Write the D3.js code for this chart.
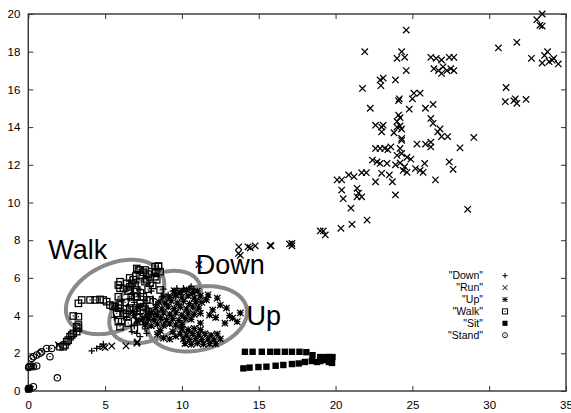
<!DOCTYPE html>
<html><head><meta charset="utf-8">
<script src="https://cdn.jsdelivr.net/npm/d3@7"></script>
<style>body{margin:0;background:#fff}svg{display:block}</style>
</head><body><svg id="c" width="571" height="413"></svg>
<script>
const xTicks = [0,5,10,15,20,25,30,35];
const yTicks = [0,2,4,6,8,10,12,14,16,18,20];
const seriesNames = ['"Down"','"Run"','"Up"','"Walk"','"Sit"','"Stand"'];

const downPts = [[4.13,2.13],[4.45,2.26],[4.67,2.35],[4.88,2.49],[7.28,2.88],[7.06,3.06],[7.7,3.06],[6.74,3.15],[7.6,3.3],[7.6,3.6],[7.55,3.9],[7.65,4.2],[7.6,4.5],[7.6,4.8],[7.3,4.1],[7.9,4.2],[6.5,4.5],[6.9,4.7],[8.3,4.6],[8.7,5.0],[9.1,5.1],[9.4,5.3],[9.67,5.45],[10.1,5.45],[10.5,5.45],[10.75,5.36],[10.3,5.3],[10.6,5.55],[10.0,5.27],[8.0,5.3],[8.8,5.4],[6.2,4.2],[5.8,4.4],[6.4,3.9],[8.9,3.5],[8.5,3.2],[9.3,4.0],[8.2,3.8],[6.8,5.2],[7.2,5.4],[6.1,4.8],[5.6,3.9],[9.8,4.6],
[6.9,3.5],[7.1,4.4],[7.8,4.4],[8.1,4.9],[6.6,4.9],[7.4,3.8],[8.4,4.2],[8.7,3.8],[9.0,4.6],[9.6,5.0]];

const runPts = [[33.45,20.0],[33.1,19.7],[33.3,19.4],[33.45,19.36],[24.6,19.15],[31.8,18.5],[30.6,18.2],[21.9,18.0],[24.3,18.0],[24.0,17.65],[24.5,17.7],[33.8,18.0],[33.6,17.8],[32.75,17.65],[34.2,17.65],[33.9,17.47],[33.45,17.4],[34.5,17.35],[34.1,17.55],[26.2,17.7],[26.55,17.65],[26.9,17.56],[27.4,17.7],[27.7,17.7],[26.4,17.1],[26.7,17.0],[27.0,17.2],[27.25,17.0],[27.7,17.0],[26.9,16.85],[27.5,17.1],[24.6,17.0],[22.9,16.5],[23.1,16.6],[22.95,16.2],[23.9,16.5],[21.75,16.05],[31.1,16.1],[24.1,15.4],[24.15,15.5],[25.1,15.8],[25.5,15.8],[25.0,15.5],[31.05,15.35],[31.7,15.5],[31.8,15.26],[32.4,15.47],[31.6,15.4],[22.26,15.0],[24.8,14.95],[25.85,15.0],[26.35,15.2],[24.1,14.64],[24.2,14.5],[24.0,14.3],[24.2,14.06],[24.0,14.0],[24.3,13.9],[22.6,14.1],[23.0,14.0],[23.1,14.1],[23.0,13.75],[23.8,13.7],[26.2,14.46],[26.35,14.2],[26.8,13.9],[26.65,13.75],[27.3,13.5],[26.9,13.5],[29.0,13.45],[24.3,13.4],[24.3,13.3],[25.3,13.1],[25.85,13.1],[26.2,13.2],[26.2,12.95],[28.1,12.9],[22.6,12.87],[22.9,12.87],[23.2,12.87],[23.6,12.95],[23.4,12.8],[24.2,12.87],[24.3,12.6],[24.0,12.5],[24.65,12.4],[24.9,12.3],[24.2,12.1],[24.5,11.9],[24.4,11.7],[24.65,11.6],[22.4,12.25],[22.7,12.15],[22.9,12.07],[23.35,12.07],[23.9,12.0],[25.2,11.8],[25.5,11.7],[25.7,11.6],[25.8,12.07],[27.4,12.15],[27.65,11.76],[20.1,11.2],[20.4,11.2],[20.85,11.46],[21.2,11.37],[21.7,11.58],[22.0,11.58],[23.0,11.55],[23.5,11.46],[22.6,11.1],[23.7,11.1],[26.5,11.2],[20.4,10.66],[20.5,10.2],[21.0,9.7],[21.4,10.75],[21.5,10.5],[21.7,10.3],[21.4,10.3],[23.9,10.4],[28.6,9.64],[22.05,9.07],[21.07,8.84],[20.35,8.63],[19.0,8.49],[19.2,8.49],[19.33,8.28],[17.16,7.83],[17.16,7.7],[15.8,7.7],[15.75,7.72],[14.45,7.6],[14.77,7.7],[14.3,7.65],[13.7,7.65],[13.68,7.3],[17.0,7.8],[13.8,7.2],[11.1,6.7],[1.96,2.44],[4.89,2.35],[5.0,2.3],[5.43,2.39],[6.36,2.39],[7.06,2.53],[7.1,2.6]];

const upPts = [
[9.5,5.32],[9.9,5.25],[10.3,5.36],[10.7,5.22],[11.0,5.3],
[8.8,5.02],[9.2,4.95],[9.6,5.08],[10.0,4.98],[10.4,5.05],[10.8,4.93],[11.2,5.04],
[8.5,4.72],[8.9,4.66],[9.3,4.78],[9.7,4.68],[10.1,4.75],[10.5,4.64],[10.9,4.74],[11.3,4.7],
[8.3,4.42],[8.7,4.36],[9.1,4.46],[9.5,4.38],[9.9,4.44],[10.3,4.35],[10.7,4.45],[11.1,4.4],
[8.0,4.12],[8.4,4.05],[8.8,4.15],[9.2,4.08],[9.6,4.14],[10.0,4.04],[10.4,4.13],[10.8,4.07],[11.2,4.12],
[7.8,3.82],[8.2,3.76],[8.6,3.86],[9.0,3.78],[9.4,3.84],[9.8,3.75],[10.2,3.85],[10.6,3.8],
[7.6,3.52],[8.0,3.46],[8.4,3.55],[8.8,3.48],[9.2,3.56],[9.6,3.5],[10.0,3.54],
[6.8,4.2],[7.1,3.7],[7.3,4.5],[6.9,4.0],
[11.6,4.83],[12.3,4.93],[12.5,4.56],[11.8,4.03],[11.2,3.6],[12.8,3.6],[13.3,3.87],[13.8,4.14],[13.6,3.68],[12.0,4.3],[12.9,4.4],[13.1,4.0],[12.2,3.9],[11.7,5.1],
[10.0,3.3],[10.4,3.26],[10.8,3.32],[11.2,3.25],
[9.9,3.02],[10.3,2.97],[10.7,3.05],[11.1,2.98],[11.5,3.04],[11.9,2.96],[12.3,3.03],
[10.1,2.76],[10.5,2.72],[10.9,2.78],[11.3,2.73],[11.7,2.77],[12.1,2.71],[12.5,2.76],
[10.2,2.52],[10.6,2.47],[11.0,2.53],[11.4,2.48],[11.8,2.52],[12.2,2.5],
[8.4,3.0],[8.8,2.8],[9.2,2.75],[9.6,2.9],[8.6,3.2],[9.4,3.15]];

const walkPts = [[2.06,2.35],[2.28,2.35],[2.39,2.44],[2.5,2.62],[2.6,2.7],[2.72,2.88],[2.83,2.97],[2.93,3.06],[3.15,3.15],[3.15,3.41],[3.26,3.5],[3.26,3.33],[2.93,3.98],[3.26,3.94],[3.26,4.65],[3.48,4.83],[4.02,4.83],[4.35,4.83],[4.67,4.86],[4.88,4.83],[5.1,4.74],[5.32,4.56],[5.65,4.47],[5.86,5.62],[5.97,5.45],[6.41,5.71],[6.63,5.53],[7.06,6.5],[7.28,6.42],[7.6,6.42],[8.25,6.6],[8.47,6.6],[8.04,6.33],[8.36,5.9],[7.71,5.9],[6.84,5.9],[6.95,5.0],[7.49,5.0],[5.76,4.12],[5.86,3.68],[6.3,4.12],[8.04,3.94],[7.49,4.47],[7.93,4.83],[7.17,6.42],[7.49,6.3],[7.28,6.15],[8.47,6.63],[8.58,6.33],[8.25,6.06],[5.97,5.8],[6.74,5.71],[6.95,5.62],[6.19,5.45],[7.06,5.36],[7.6,5.8],[7.93,5.71],[8.58,5.36],[5.86,5.0],[5.97,4.56],[5.86,4.39],[6.19,4.12],[6.08,3.68],[5.97,3.41],[6.41,3.94],[7.06,5.0],[7.28,4.65],[7.71,4.83],[7.82,4.21],[7.93,3.94],[6.84,4.3],[7.49,4.12],[7.28,3.68],
[6.5,5.3],[6.7,5.0],[6.3,4.7],[6.6,4.4],[7.0,4.4],[7.3,5.2],[7.8,5.4],[8.1,5.6],[6.6,6.0],[7.0,6.1],[7.8,6.2],[8.3,6.3],[6.5,3.6],[6.9,3.3],[7.2,3.9],[5.5,4.5]];

const sitPts = [[14.1,2.08],[14.6,2.08],[15.2,2.08],[15.75,2.08],[16.2,2.08],[16.7,2.08],[17.16,2.08],[17.65,2.08],[18.1,2.06],[18.5,1.9],[19.0,1.8],[19.4,1.8],
[14.0,1.2],[14.4,1.24],[14.98,1.27],[15.5,1.29],[16.1,1.34],[16.6,1.38],[17.16,1.43],[17.6,1.46],[18.0,1.54],[18.45,1.59],[18.8,1.54],[19.0,1.59],[19.3,1.64],[19.56,1.54],[19.77,1.49],[19.56,1.8],[19.8,1.8],
[0.02,0.08],[0.08,0.12],[0.04,0.15]];

const standPts = [[0.0,0.1],[0.06,0.14],[0.33,0.23],[1.89,0.7],[0.11,1.29],[0.22,1.33],[0.33,1.29],[0.55,1.33],[0.22,1.73],[0.33,1.82],[0.55,1.91],[0.76,2.0],[0.87,2.08],[1.2,2.26],[1.52,2.26],[1.41,1.82],[0.06,1.3],[0.02,1.25]];

// ellipse: centre, semi-axis vectors (data units)
const ellipseNames = ["Walk","Down","Up"];
const ellipseCentres = [[5.65,4.99],[8.26,4.46],[10.99,3.83]];
const ellipseMajor = [[3.07,1.17],[2.82,1.33],[3.21,0.62]];
const ellipseMinor = [[0.91,-1.59],[0.98,-1.38],[0.50,-1.62]];
const labelPos = [[1.3,7.0],[10.9,6.2],[14.2,3.5]];

const svg = d3.select("#c");
const x = d3.scaleLinear().domain([0,35]).range([28.3,566]);
const y = d3.scaleLinear().domain([0,20]).range([391,14]);
const font = "'Liberation Sans', Arial, Helvetica, sans-serif";

// axes
const gB = svg.append("g").attr("transform","translate(0,391)")
  .call(d3.axisBottom(x).tickValues(xTicks).tickSize(-5).tickPadding(10).tickFormat(d3.format("d")));
const gT = svg.append("g").attr("transform","translate(0,14)")
  .call(d3.axisTop(x).tickValues(xTicks).tickSize(-5).tickFormat(""));
const gL = svg.append("g").attr("transform","translate(28.3,0)")
  .call(d3.axisLeft(y).tickValues(yTicks).tickSize(-5).tickPadding(8).tickFormat(d3.format("d")));
const gR = svg.append("g").attr("transform","translate(566,0)")
  .call(d3.axisRight(y).tickValues(yTicks).tickSize(-5).tickFormat(""));
[gB,gT,gL,gR].forEach(g=>{
  g.select(".domain").remove();
  g.selectAll("line").attr("stroke","#333").attr("stroke-width",1);
  g.selectAll("text").attr("font-family",font).attr("font-size","11.5px").attr("fill","#000");
});
svg.append("rect").attr("x",x(0)).attr("y",y(20)).attr("width",x(35)-x(0)).attr("height",y(0)-y(20))
  .attr("fill","none").attr("stroke","#333").attr("stroke-width",1.4);

// ellipses
const ts = d3.range(0,361,3).map(d=>d*Math.PI/180);
ellipseNames.forEach((n,i)=>{
  const c=ellipseCentres[i], u=ellipseMajor[i], v=ellipseMinor[i];
  const line = d3.line().x(t=>x(c[0]+u[0]*Math.cos(t)+v[0]*Math.sin(t))).y(t=>y(c[1]+u[1]*Math.cos(t)+v[1]*Math.sin(t)));
  svg.append("path").attr("d",line(ts)+"Z").attr("fill","none").attr("stroke","#888").attr("stroke-width",4);
});
// labels
ellipseNames.forEach((n,i)=>{
  svg.append("text").attr("x",x(labelPos[i][0])).attr("y",y(labelPos[i][1])).text(n)
    .attr("font-family",font).attr("font-size","27px").attr("fill","#000");
});

// symbols
const s=3.2, sw=1.25;
const sym = {
  Down:g=>g.append("path").attr("d",`M${-s},0H${s}M0,${-s}V${s}`).attr("stroke","#000").attr("stroke-width",sw).attr("fill","none"),
  Run:g=>g.append("path").attr("d",`M${-s},${-s}L${s},${s}M${-s},${s}L${s},${-s}`).attr("stroke","#000").attr("stroke-width",sw).attr("fill","none"),
  Up:g=>g.append("path").attr("d",`M${-s},0H${s}M0,${-s}V${s}M${-s},${-s}L${s},${s}M${-s},${s}L${s},${-s}`).attr("stroke","#000").attr("stroke-width",sw).attr("fill","none"),
  Walk:g=>{g.append("rect").attr("x",-s).attr("y",-s).attr("width",2*s).attr("height",2*s).attr("fill","none").attr("stroke","#000").attr("stroke-width",sw);
           g.append("rect").attr("x",-0.6).attr("y",-0.6).attr("width",1.2).attr("height",1.2).attr("fill","#000");},
  Sit:g=>g.append("rect").attr("x",-s).attr("y",-s).attr("width",2*s).attr("height",2*s).attr("fill","#000"),
  Stand:g=>{g.append("circle").attr("r",s).attr("fill","none").attr("stroke","#000").attr("stroke-width",1.1);
            g.append("rect").attr("x",-0.6).attr("y",-0.6).attr("width",1.2).attr("height",1.2).attr("fill","#000");}
};
const series = [["Down",downPts],["Run",runPts],["Up",upPts],["Walk",walkPts],["Sit",sitPts],["Stand",standPts]];
series.forEach(([n,pts])=>{
  svg.append("g").selectAll("g").data(pts).join("g")
    .attr("transform",d=>`translate(${x(d[0])},${y(d[1])})`)
    .each(function(){sym[n](d3.select(this));});
});

// legend
const leg = svg.append("g");
seriesNames.forEach((n,i)=>{
  const yy = 275.7 + i*11.9;
  leg.append("text").attr("x",483).attr("y",yy).attr("dy","0.35em").attr("text-anchor","end")
    .attr("font-family",font).attr("font-size","10.5px").text(n);
  const g = leg.append("g").attr("transform",`translate(505,${yy}) scale(0.8)`);
  sym[series[i][0]](g);
});
</script></body></html>
